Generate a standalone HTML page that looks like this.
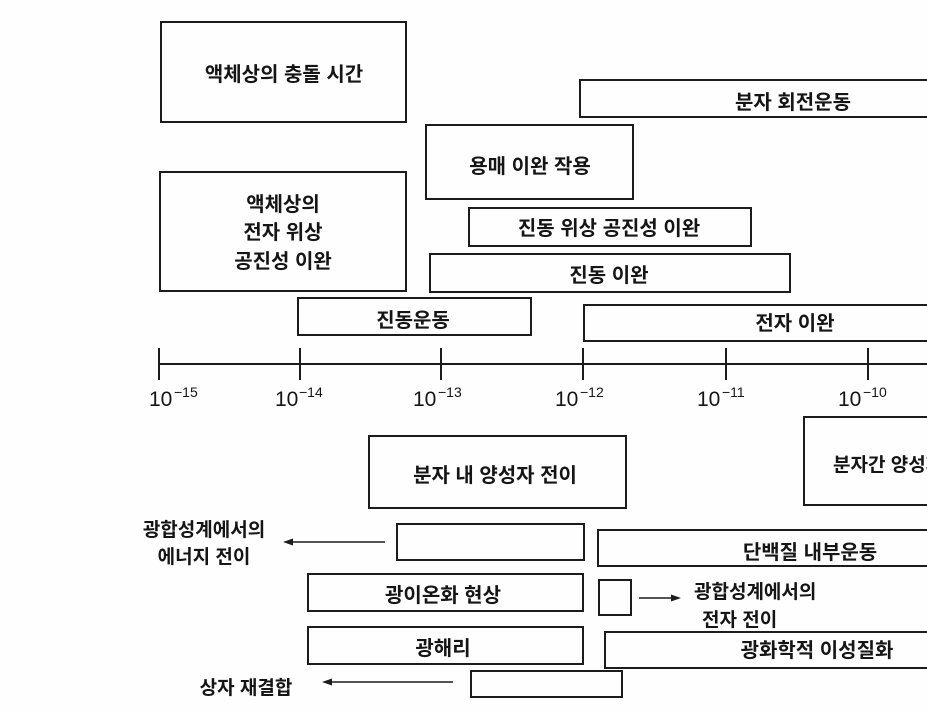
<!DOCTYPE html>
<html>
<head>
<meta charset="utf-8">
<style>
  html, body { margin:0; padding:0; }
  body { width:927px; height:711px; overflow:hidden; background:#fefefe; position:relative;
         font-family:"Liberation Sans","Noto Sans CJK KR",sans-serif; color:#151515; }
  .b { position:absolute; border:2px solid #1c1c1c; box-sizing:border-box; }
  .r { border-right:0; }
  .t { position:absolute; height:30px; line-height:30px; white-space:nowrap; font-size:20px; font-weight:bold; }
  .c { width:300px; text-align:center; }
  .s { font-size:19px; }
  .n { position:absolute; font-family:"Liberation Sans",sans-serif; white-space:nowrap; }
  .n .d { position:absolute; left:0; top:0; font-size:21px; line-height:21px; }
  .n .e { position:absolute; top:-4px; font-size:14px; line-height:14px; }
  svg { position:absolute; left:0; top:0; }
</style>
</head>
<body>
<!-- boxes -->
<div class="b" style="left:160px;top:21px;width:247px;height:102px;"></div>
<div class="b r" style="left:579px;top:79px;width:348px;height:39px;"></div>
<div class="b" style="left:425px;top:124px;width:209px;height:76px;"></div>
<div class="b" style="left:159px;top:171px;width:248px;height:121px;"></div>
<div class="b" style="left:468px;top:207px;width:284px;height:40px;"></div>
<div class="b" style="left:429px;top:253px;width:362px;height:40px;"></div>
<div class="b" style="left:297px;top:297px;width:235px;height:39px;"></div>
<div class="b r" style="left:583px;top:304px;width:344px;height:38px;"></div>

<div class="b" style="left:368px;top:435px;width:259px;height:74px;"></div>
<div class="b r" style="left:803px;top:416px;width:124px;height:90px;overflow:hidden;">
  <div class="t s" style="left:28px;top:33px;">분자간 양성자 전이</div>
</div>
<div class="b" style="left:396px;top:523px;width:189px;height:38px;"></div>
<div class="b r" style="left:597px;top:529px;width:330px;height:38px;"></div>
<div class="b" style="left:307px;top:573px;width:277px;height:39px;"></div>
<div class="b" style="left:598px;top:579px;width:34px;height:37px;"></div>
<div class="b" style="left:307px;top:626px;width:277px;height:39px;"></div>
<div class="b r" style="left:604px;top:631px;width:323px;height:38px;"></div>
<div class="b" style="left:470px;top:670px;width:153px;height:28px;"></div>

<!-- axis and arrows -->
<svg width="927" height="711" viewBox="0 0 927 711">
  <g stroke="#1c1c1c" stroke-width="2" fill="none">
    <line x1="159" y1="364" x2="927" y2="364"/>
    <line x1="159" y1="348" x2="159" y2="380"/>
    <line x1="300" y1="348" x2="300" y2="380"/>
    <line x1="441" y1="348" x2="441" y2="380"/>
    <line x1="583" y1="348" x2="583" y2="380"/>
    <line x1="726" y1="348" x2="726" y2="380"/>
    <line x1="868" y1="348" x2="868" y2="380"/>
    <line x1="288" y1="542" x2="385" y2="542" stroke-width="1.6"/>
    <line x1="327" y1="682" x2="453" y2="682" stroke-width="1.6"/>
    <line x1="639" y1="598" x2="675" y2="598" stroke-width="1.6"/>
  </g>
  <g fill="#1c1c1c">
    <polygon points="283,542 293,538.5 293,545.5"/>
    <polygon points="322,682 332,678.5 332,685.5"/>
    <polygon points="681,598 671,594.5 671,601.5"/>
  </g>
</svg>

<!-- axis labels -->
<div class="n" style="left:149px;top:389px;"><span class="d">10</span><span class="e" style="left:25px;">−15</span></div>
<div class="n" style="left:275px;top:389px;"><span class="d">10</span><span class="e" style="left:24px;">−14</span></div>
<div class="n" style="left:413px;top:389px;"><span class="d">10</span><span class="e" style="left:25px;">−13</span></div>
<div class="n" style="left:555px;top:389px;"><span class="d">10</span><span class="e" style="left:25px;">−12</span></div>
<div class="n" style="left:697px;top:389px;"><span class="d">10</span><span class="e" style="left:25px;">−11</span></div>
<div class="n" style="left:838px;top:389px;"><span class="d">10</span><span class="e" style="left:25px;">−10</span></div>

<!-- texts -->
<div class="t c" style="left:134px;top:60px;">액체상의 충돌 시간</div>
<div class="t c" style="left:643px;top:88px;">분자 회전운동</div>
<div class="t c" style="left:380px;top:152px;">용매 이완 작용</div>
<div class="t c" style="left:133px;top:190px;">액체상의</div>
<div class="t c" style="left:133px;top:218px;">전자 위상</div>
<div class="t c" style="left:133px;top:247px;">공진성 이완</div>
<div class="t c" style="left:459px;top:214px;">진동 위상 공진성 이완</div>
<div class="t c" style="left:459px;top:261px;">진동 이완</div>
<div class="t c" style="left:263px;top:306px;">진동운동</div>
<div class="t c" style="left:645px;top:309px;">전자 이완</div>

<div class="t c" style="left:345px;top:461px;">분자 내 양성자 전이</div>
<div class="t c s" style="left:54px;top:516px;">광합성계에서의</div>
<div class="t c s" style="left:54px;top:543px;">에너지 전이</div>
<div class="t c" style="left:660px;top:538px;">단백질 내부운동</div>
<div class="t c" style="left:293px;top:581px;">광이온화 현상</div>
<div class="t s" style="left:694px;top:578px;">광합성계에서의</div>
<div class="t s" style="left:702px;top:606px;">전자 전이</div>
<div class="t c" style="left:293px;top:634px;">광해리</div>
<div class="t c" style="left:667px;top:636px;">광화학적 이성질화</div>
<div class="t c s" style="left:96px;top:674px;">상자 재결합</div>
</body>
</html>
